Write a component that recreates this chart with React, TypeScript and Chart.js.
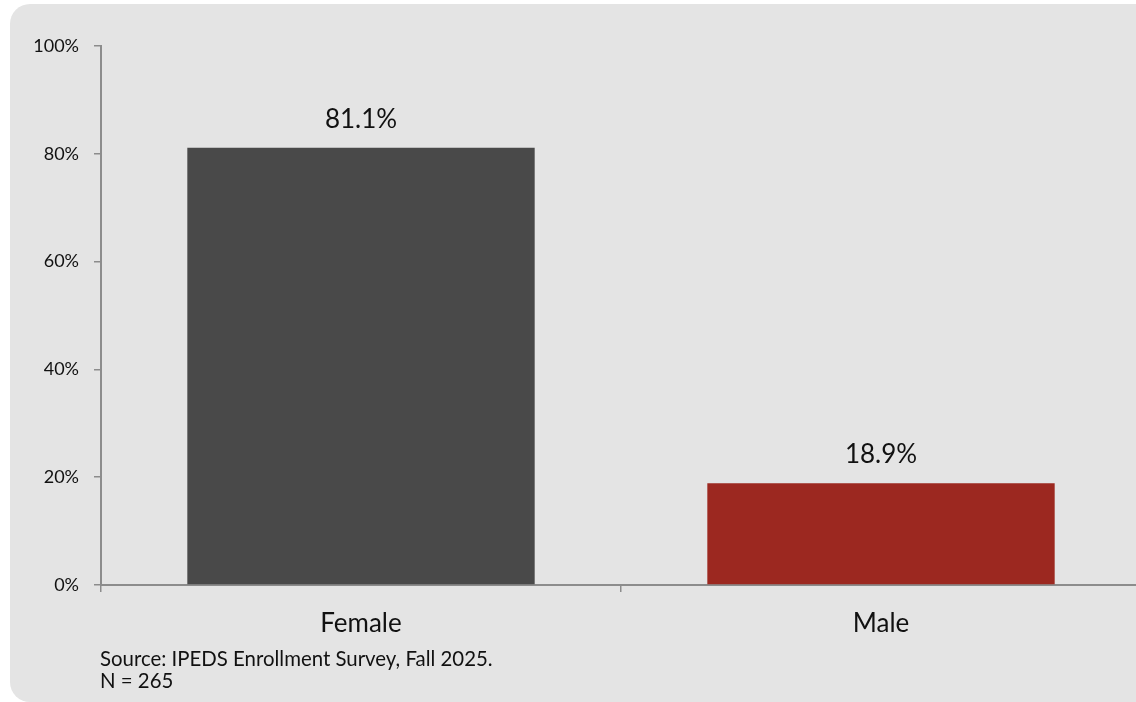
import React, { useEffect, useRef } from "react";
import { Chart, registerables } from "chart.js";

Chart.register(...registerables);

const categories = ["Female", "Male"];
const shares = [81.1, 18.9];
const barColors = ["#494949", "#9c2820"];
const yTicks = [0, 20, 40, 60, 80, 100];
const sourceLines = ["Source: IPEDS Enrollment Survey, Fall 2025.", "N = 265"];

const FONT = "Lato, 'Open Sans', sans-serif";
const AXIS = "#8c8c8c";

const valueLabels = {
  id: "valueLabels",
  afterDatasetsDraw(chart: any) {
    const ctx = chart.ctx;
    const meta = chart.getDatasetMeta(0);
    ctx.save();
    ctx.font = `26px ${FONT}`;
    ctx.fillStyle = "#111";
    ctx.textAlign = "center";
    ctx.textBaseline = "alphabetic";
    meta.data.forEach((bar: any, i: number) => {
      ctx.fillText(shares[i].toFixed(1) + "%", bar.x, bar.y - 20);
    });
    ctx.restore();
  },
};

export default function App() {
  const ref = useRef<HTMLCanvasElement>(null);
  useEffect(() => {
    if (!ref.current) return;
    const chart = new Chart(ref.current, {
      type: "bar",
      data: {
        labels: categories,
        datasets: [
          {
            data: shares,
            backgroundColor: barColors,
            borderWidth: 0,
            barPercentage: 0.668,
            categoryPercentage: 1,
          },
        ],
      },
      options: {
        responsive: false,
        animation: false,
        devicePixelRatio: 1,
        layout: { padding: { left: 0, top: 42, right: 29, bottom: 0 } },
        plugins: { legend: { display: false }, tooltip: { enabled: false } },
        scales: {
          x: {
            offset: true,
            grid: {
              offset: true,
              drawOnChartArea: false,
              drawTicks: true,
              tickLength: 7,
              color: AXIS,
              lineWidth: 1.5,
            },
            border: { display: true, color: AXIS, width: 2 },
            ticks: {
              color: "#111",
              font: { family: FONT, size: 26 },
              padding: 16,
            },
            afterFit: (s: any) => {
              s.height = 117;
            },
          },
          y: {
            min: 0,
            max: 100,
            afterBuildTicks: (s: any) => {
              s.ticks = yTicks.map((v) => ({ value: v }));
            },
            grid: {
              drawOnChartArea: false,
              drawTicks: true,
              tickLength: 7,
              color: AXIS,
              lineWidth: 1.5,
            },
            border: { display: true, color: AXIS, width: 2 },
            ticks: {
              color: "#111",
              font: { family: FONT, size: 18 },
              padding: 15,
              callback: (v: any) => v + "%",
            },
            afterFit: (s: any) => {
              s.width = 91;
            },
          },
        },
      },
      plugins: [valueLabels],
    });
    return () => chart.destroy();
  }, []);

  return (
    <div style={{ position: "fixed", inset: 0, overflow: "hidden", background: "#fff" }}>
      <div
        style={{
          position: "absolute",
          left: 10,
          top: 4,
          width: 1160,
          height: 698,
          background: "#e4e4e4",
          borderRadius: 20,
          overflow: "hidden",
        }}
      >
        <canvas ref={ref} width={1160} height={698} style={{ position: "absolute", left: 0, top: 0 }} />
        <div
          style={{
            position: "absolute",
            left: 90,
            top: 643,
            fontFamily: FONT,
            fontSize: 20.4,
            lineHeight: "22px",
            color: "#111",
            whiteSpace: "nowrap",
          }}
        >
          {sourceLines.map((l) => (
            <div key={l}>{l}</div>
          ))}
        </div>
      </div>
    </div>
  );
}
